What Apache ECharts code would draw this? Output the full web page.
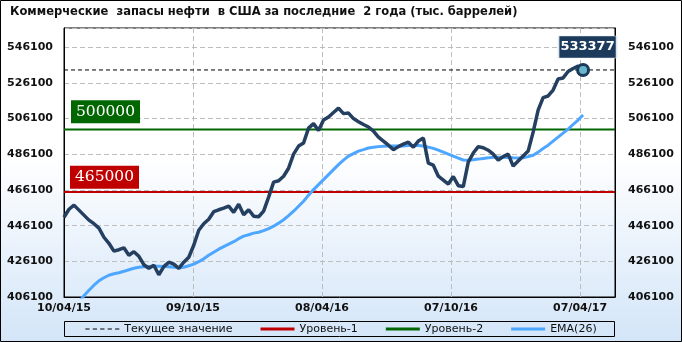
<!DOCTYPE html>
<html><head><meta charset="utf-8">
<script src="https://cdn.jsdelivr.net/npm/echarts@6/dist/echarts.min.js"></script>
<style>html,body{margin:0;padding:0;}#c{width:682px;height:342px;background:linear-gradient(to bottom,#ffffff 0%,#ffffff 45%,#d3e5f8 100%);}</style>
</head><body><div id="c"></div>
<script>
// X tick labels (weekly data, one label every 26 weeks)
const tickLabels = ['10/04/15', '09/10/15', '08/04/16', '07/10/16', '07/04/17'];

// Commercial crude stocks, weekly, 10/04/15 .. 07/04/17 (thousand barrels)
const stocks = [
  450800,455300,457600,454800,452000,449200,447200,444700,439600,436200,
  431800,432600,433700,429500,431500,428900,424200,422200,423900,418600,
  423100,425600,424500,422200,425600,428400,435100,443500,447200,449700,
  453900,455000,455900,457000,453600,458100,452200,455000,451400,451100,
  454200,462100,470500,471300,473800,478300,486200,490700,492400,500800,
  503300,499400,505300,507000,509500,512000,508900,509200,506100,504400,
  502800,501400,499100,495700,493500,491200,488700,490400,491800,492900,
  490100,493500,495200,481100,480000,473800,471600,469400,473600,468500,
  468000,481700,486800,490400,489800,488400,486200,482800,484800,486200,
  479500,482300,485100,487900,498500,510900,517900,518800,522100,528300,
  528900,532500,534200,535600,533377
];

// EMA(26) as drawn
const ema = [
  null,null,null,403100,406800,409900,412700,415200,416900,418300,
  419100,419700,420500,421400,422200,422800,423100,423200,423300,423300,
  423200,423100,422800,422500,422800,423600,424500,425900,427500,429500,
  431200,432900,434300,435700,437100,438800,440200,441000,441900,442400,
  443300,444400,445800,447500,449400,451700,454200,457000,459800,463200,
  466300,469100,471900,474700,477500,480300,482800,485100,486500,487900,
  488700,489600,490100,490400,490600,490700,490700,490700,490800,491000,
  491000,491000,490700,490100,489400,488400,487300,486200,485100,484000,
  482900,482800,483100,483400,483800,484100,484500,484500,484500,484300,
  484100,484000,484200,484800,485600,487300,489300,491200,493500,495700,
  498000,500200,502800,505300,508100
];

const currentValue = 533377;
const level1 = 465000;
const level2 = 500000;

const X_MAX = 110.4, X_STEP = 25.85;
const Y_MIN = 406100, Y_MAX = 556900, Y_STEP = 20000;

const lastIdx = stocks.length - 1;
const stockData = stocks.map((v, i) => [i, v]);
const emaData = ema.map((v, i) => [i, v]);
const flat = v => [[0, v], [X_MAX, v]];

const axisFont = {fontFamily: 'DejaVu Sans', fontSize: 11, fontWeight: 'bold', color: '#111'};
const plain = v => String(Math.round(v));
const dashIcon = 'path://M0,0h4v1h-4zM7,0h4v1h-4zM14,0h4v1h-4zM21,0h4v1h-4zM28,0h4v1h-4z';

const chart = echarts.init(document.getElementById('c'), null, {renderer: 'canvas'});
chart.setOption({
  animation: false,
  title: {
    text: 'Коммерческие  запасы нефти  в США за последние  2 года (тыс. баррелей)',
    left: 5, top: 0, padding: [5, 5],
    textStyle: {fontFamily: 'DejaVu Sans Condensed', fontSize: 12.8, fontWeight: 'bold', color: '#111'}
  },
  grid: {left: 64, right: 67, top: 28, bottom: 45, show: true, borderColor: '#000', borderWidth: 1, backgroundColor: 'transparent', outerBoundsMode: 'none'},
  legend: {
    data: [
      {name: 'Текущее значение', icon: dashIcon},
      {name: 'Уровень-1', icon: 'rect'},
      {name: 'Уровень-2', icon: 'rect'},
      {name: 'EMA(26)', icon: 'rect'}
    ],
    left: 'center', top: 321, itemWidth: 34, itemHeight: 3, itemGap: 28, padding: [0, 5],
    textStyle: {fontFamily: 'DejaVu Sans', fontSize: 11, color: '#111', lineHeight: 16}
  },
  xAxis: {
    type: 'value', min: 0, max: X_MAX, interval: X_STEP,
    axisLine: {show: true, lineStyle: {color: '#000'}},
    axisTick: {show: false},
    splitLine: {show: true, lineStyle: {color: '#bdbdbd', type: [5, 3]}},
    axisLabel: Object.assign({margin: 6, showMaxLabel: false, formatter: (v, i) => tickLabels[i] || ''}, axisFont)
  },
  yAxis: [{
    type: 'value', min: Y_MIN, max: Y_MAX, interval: Y_STEP, position: 'left',
    axisLine: {show: true, lineStyle: {color: '#000'}},
    axisTick: {show: false},
    splitLine: {show: true, lineStyle: {color: '#bdbdbd', type: [5, 3]}},
    axisLabel: Object.assign({margin: 11, showMaxLabel: false, formatter: plain}, axisFont)
  }, {
    type: 'value', min: Y_MIN, max: Y_MAX, interval: Y_STEP, position: 'right',
    axisLine: {show: true, lineStyle: {color: '#000'}},
    axisTick: {show: false},
    splitLine: {show: false},
    axisLabel: Object.assign({margin: 13, showMaxLabel: false, formatter: plain}, axisFont)
  }],
  graphic: [
    {type: 'rect', shape: {x: 0.5, y: 0.5, width: 681, height: 341}, style: {fill: 'none', stroke: '#000', lineWidth: 1}, silent: true},
    {type: 'rect', shape: {x: 64.5, y: 321.5, width: 550, height: 15}, style: {fill: 'none', stroke: '#000', lineWidth: 1}, silent: true}
  ],
  series: [
    {
      name: 'Уровень-1', type: 'line', data: flat(level1), symbol: 'none', z: 2,
      lineStyle: {color: '#c00000', width: 2}, itemStyle: {color: '#c00000'},
      markPoint: {
        silent: true,
        data: [{coord: [0, level1], symbol: 'rect', symbolSize: [69, 23], symbolOffset: [40.5, -14.7],
          itemStyle: {color: '#c00000'},
          label: {show: true, position: 'inside', formatter: String(level1), color: '#fff', fontFamily: 'DejaVu Serif', fontSize: 15.5}}]
      }
    },
    {
      name: 'Уровень-2', type: 'line', data: flat(level2), symbol: 'none', z: 2,
      lineStyle: {color: '#006600', width: 2}, itemStyle: {color: '#006600'},
      markPoint: {
        silent: true,
        data: [{coord: [0, level2], symbol: 'rect', symbolSize: [69, 23], symbolOffset: [41.5, -17.7],
          itemStyle: {color: '#006600'},
          label: {show: true, position: 'inside', formatter: String(level2), color: '#fff', fontFamily: 'DejaVu Serif', fontSize: 15.5}}]
      }
    },
    {
      name: 'Текущее значение', type: 'line', data: flat(currentValue), symbol: 'none', z: 2,
      lineStyle: {color: '#000', width: 1, type: [4, 3]}, itemStyle: {color: '#000'}
    },
    {
      name: 'EMA(26)', type: 'line', data: emaData, symbol: 'none', z: 3, connectNulls: false,
      lineStyle: {color: '#4da6ff', width: 3}, itemStyle: {color: '#4da6ff'}
    },
    {
      name: 'Запасы', type: 'line', data: stockData, symbol: 'none', z: 4,
      lineStyle: {color: '#243f60', width: 3.5}, itemStyle: {color: '#243f60'},
      markPoint: {
        silent: true,
        data: [
          {coord: [lastIdx, currentValue], symbol: 'rect', symbolSize: [58, 22], symbolOffset: [4.5, -23],
            itemStyle: {color: '#1b3a5c', borderColor: '#dfe6ee', borderWidth: 1},
            label: {show: true, position: 'inside', formatter: String(currentValue), color: '#fff', fontFamily: 'DejaVu Sans', fontWeight: 'bold', fontSize: 13}},
          {coord: [lastIdx, currentValue], symbol: 'circle', symbolSize: 11,
            itemStyle: {color: '#68b6cc', borderColor: '#1d3a5c', borderWidth: 3},
            label: {show: false}}
        ]
      }
    }
  ]
});
</script></body></html>
